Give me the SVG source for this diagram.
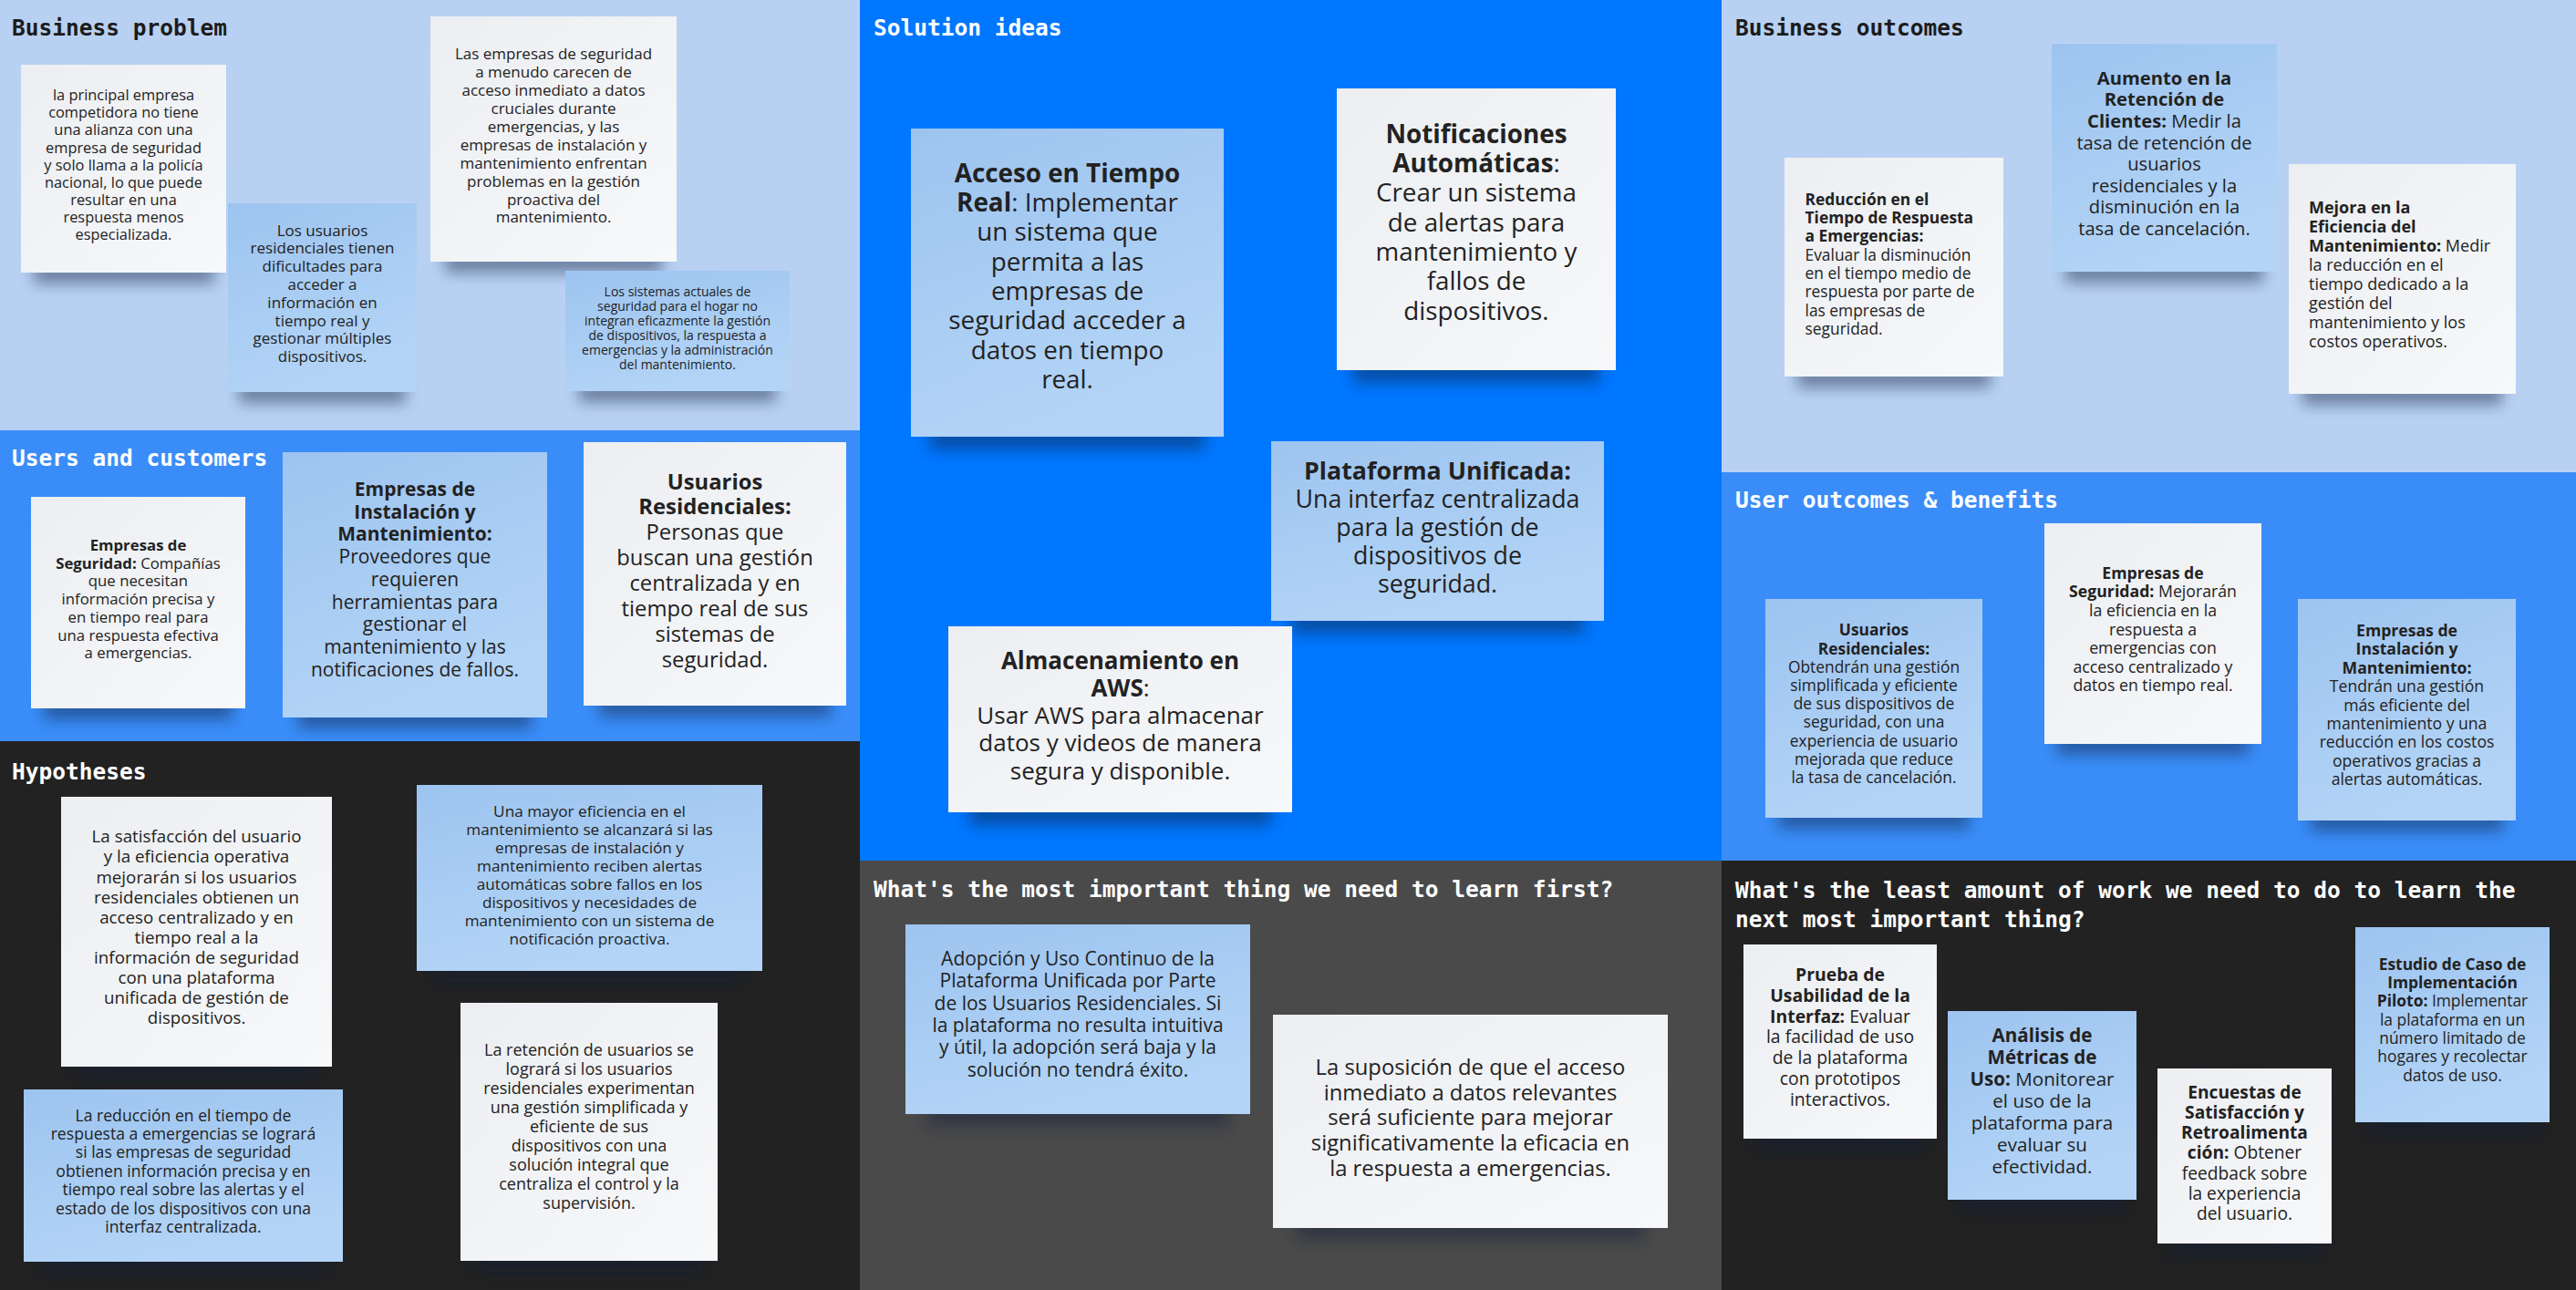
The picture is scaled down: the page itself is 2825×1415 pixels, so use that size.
<svg xmlns="http://www.w3.org/2000/svg" width="2825" height="1415" viewBox="0 0 2825 1415">
<defs>
<linearGradient id="gw" x1="0" y1="0" x2="1" y2="1"><stop offset="0" stop-color="#eceef1"/><stop offset="1" stop-color="#f7f8fa"/></linearGradient>
<linearGradient id="gb" x1="0" y1="0" x2="0.4" y2="1"><stop offset="0" stop-color="#9dc4f0"/><stop offset="1" stop-color="#b3d4f6"/></linearGradient>
<filter id="blur" x="-30%" y="-100%" width="160%" height="300%"><feGaussianBlur stdDeviation="8"/></filter>
</defs>
<style>
.h{font-family:"DejaVu Sans Mono","Liberation Mono",monospace;font-weight:700;font-size:24.5px;fill:#ffffff}
.hd{fill:#1c1c1c}
.t{font-family:"Open Sans","Noto Sans","Liberation Sans",sans-serif;fill:#222222;text-anchor:middle}
.l{text-anchor:start}
.b{font-weight:700}
.w{fill:url(#gw)}
.bl{fill:url(#gb)}
.sh{fill:#0a1a3a;opacity:0.45;filter:url(#blur)}
</style>

<g id="sections">
<rect x="0" y="0" width="943" height="472" fill="#b8d1f3"/>
<rect x="0" y="472" width="943" height="341" fill="#3a8df8"/>
<rect x="0" y="813" width="943" height="602" fill="#222222"/>
<rect x="943" y="0" width="945" height="944" fill="#0077ff"/>
<rect x="943" y="944" width="945" height="471" fill="#4a4a4a"/>
<rect x="1888" y="0" width="937" height="518" fill="#b8d1f3"/>
<rect x="1888" y="518" width="937" height="426" fill="#3a8df8"/>
<rect x="1888" y="944" width="937" height="471" fill="#222222"/>
</g>

<g id="titles">
<text class="h hd" x="13" y="39">Business problem</text>
<text class="h" x="13" y="511">Users and customers</text>
<text class="h" x="13" y="855">Hypotheses</text>
<text class="h" x="958" y="39">Solution ideas</text>
<text class="h" x="958" y="984">What's the most important thing we need to learn first?</text>
<text class="h hd" x="1903" y="39">Business outcomes</text>
<text class="h" x="1903" y="557">User outcomes &amp; benefits</text>
<text class="h" x="1903" y="985">What's the least amount of work we need to do to learn the</text>
<text class="h" x="1903" y="1017">next most important thing?</text>
</g>

<g id="connectors"></g>

<!-- Business problem -->
<g id="bp-competidora">
<rect class="sh" x="37" y="287" width="198" height="24"/>
<rect class="w" x="23" y="71" width="225" height="228"/>
<text class="t" font-size="16.4"><tspan x="135.5" y="110.4">la principal empresa</tspan><tspan x="135.5" dy="19.04">competidora no tiene</tspan><tspan x="135.5" dy="19.04">una alianza con una</tspan><tspan x="135.5" dy="19.04">empresa de seguridad</tspan><tspan x="135.5" dy="19.04">y solo llama a la policía</tspan><tspan x="135.5" dy="19.04">nacional, lo que puede</tspan><tspan x="135.5" dy="19.04">resultar en una</tspan><tspan x="135.5" dy="19.04">respuesta menos</tspan><tspan x="135.5" dy="19.04">especializada.</tspan></text>
</g>
<g id="bp-usuarios">
<rect class="sh" x="262" y="418" width="183" height="24"/>
<rect class="bl" x="250" y="223" width="207" height="207"/>
<text class="t" font-size="17"><tspan x="353.5" y="258.6">Los usuarios</tspan><tspan x="353.5" dy="19.8">residenciales tienen</tspan><tspan x="353.5" dy="19.8">dificultades para</tspan><tspan x="353.5" dy="19.8">acceder a</tspan><tspan x="353.5" dy="19.8">información en</tspan><tspan x="353.5" dy="19.8">tiempo real y</tspan><tspan x="353.5" dy="19.8">gestionar múltiples</tspan><tspan x="353.5" dy="19.8">dispositivos.</tspan></text>
</g>
<g id="bp-empresas">
<rect class="sh" x="488" y="275" width="238" height="24"/>
<rect class="w" x="472" y="18" width="270" height="269"/>
<text class="t" font-size="17"><tspan x="607" y="65.3">Las empresas de seguridad</tspan><tspan x="607" dy="19.9">a menudo carecen de</tspan><tspan x="607" dy="19.9">acceso inmediato a datos</tspan><tspan x="607" dy="19.9">cruciales durante</tspan><tspan x="607" dy="19.9">emergencias, y las</tspan><tspan x="607" dy="19.9">empresas de instalación y</tspan><tspan x="607" dy="19.9">mantenimiento enfrentan</tspan><tspan x="607" dy="19.9">problemas en la gestión</tspan><tspan x="607" dy="19.9">proactiva del</tspan><tspan x="607" dy="19.9">mantenimiento.</tspan></text>
</g>
<g id="bp-sistemas">
<rect class="sh" x="635" y="417" width="216" height="24"/>
<rect class="bl" x="620" y="297" width="246" height="132"/>
<text class="t" font-size="14"><tspan x="743" y="324.8">Los sistemas actuales de</tspan><tspan x="743" dy="16">seguridad para el hogar no</tspan><tspan x="743" dy="16">integran eficazmente la gestión</tspan><tspan x="743" dy="16">de dispositivos, la respuesta a</tspan><tspan x="743" dy="16">emergencias y la administración</tspan><tspan x="743" dy="16">del mantenimiento.</tspan></text>
</g>

<!-- Users and customers -->
<g id="uc-seguridad">
<rect class="sh" x="48" y="765" width="207" height="24"/>
<rect class="w" x="34" y="545" width="235" height="232"/>
<text class="t" font-size="16.8"><tspan x="151.5" y="604" class="b">Empresas de</tspan><tspan x="151.5" dy="19.7"><tspan class="b">Seguridad:</tspan> Compañías</tspan><tspan x="151.5" dy="19.7">que necesitan</tspan><tspan x="151.5" dy="19.7">información precisa y</tspan><tspan x="151.5" dy="19.7">en tiempo real para</tspan><tspan x="151.5" dy="19.7">una respuesta efectiva</tspan><tspan x="151.5" dy="19.7">a emergencias.</tspan></text>
</g>
<g id="uc-instalacion">
<rect class="sh" x="327" y="775" width="256" height="24"/>
<rect class="bl" x="310" y="496" width="290" height="291"/>
<text class="t" font-size="21"><tspan x="455" y="544" class="b">Empresas de</tspan><tspan x="455" dy="24.7" class="b">Instalación y</tspan><tspan x="455" dy="24.7" class="b">Mantenimiento:</tspan><tspan x="455" dy="24.7">Proveedores que</tspan><tspan x="455" dy="24.7">requieren</tspan><tspan x="455" dy="24.7">herramientas para</tspan><tspan x="455" dy="24.7">gestionar el</tspan><tspan x="455" dy="24.7">mantenimiento y las</tspan><tspan x="455" dy="24.7">notificaciones de fallos.</tspan></text>
</g>
<g id="uc-residenciales">
<rect class="sh" x="657" y="762" width="254" height="24"/>
<rect class="w" x="640" y="485" width="288" height="289"/>
<text class="t" font-size="23.8"><tspan x="784" y="536.5" class="b">Usuarios</tspan><tspan x="784" dy="27.9" class="b">Residenciales:</tspan><tspan x="784" dy="27.9">Personas que</tspan><tspan x="784" dy="27.9">buscan una gestión</tspan><tspan x="784" dy="27.9">centralizada y en</tspan><tspan x="784" dy="27.9">tiempo real de sus</tspan><tspan x="784" dy="27.9">sistemas de</tspan><tspan x="784" dy="27.9">seguridad.</tspan></text>
</g>

<!-- Hypotheses -->
<g id="hy-satisfaccion">
<rect class="sh" x="85" y="1158" width="261" height="24"/>
<rect class="w" x="67" y="874" width="297" height="296"/>
<text class="t" font-size="18.8"><tspan x="215.5" y="924.3">La satisfacción del usuario</tspan><tspan x="215.5" dy="22.1">y la eficiencia operativa</tspan><tspan x="215.5" dy="22.1">mejorarán si los usuarios</tspan><tspan x="215.5" dy="22.1">residenciales obtienen un</tspan><tspan x="215.5" dy="22.1">acceso centralizado y en</tspan><tspan x="215.5" dy="22.1">tiempo real a la</tspan><tspan x="215.5" dy="22.1">información de seguridad</tspan><tspan x="215.5" dy="22.1">con una plataforma</tspan><tspan x="215.5" dy="22.1">unificada de gestión de</tspan><tspan x="215.5" dy="22.1">dispositivos.</tspan></text>
</g>
<g id="hy-mantenimiento">
<rect class="sh" x="480" y="1053" width="333" height="24"/>
<rect class="bl" x="457" y="861" width="379" height="204"/>
<text class="t" font-size="17.2"><tspan x="646.5" y="895.6">Una mayor eficiencia en el</tspan><tspan x="646.5" dy="20">mantenimiento se alcanzará si las</tspan><tspan x="646.5" dy="20">empresas de instalación y</tspan><tspan x="646.5" dy="20">mantenimiento reciben alertas</tspan><tspan x="646.5" dy="20">automáticas sobre fallos en los</tspan><tspan x="646.5" dy="20">dispositivos y necesidades de</tspan><tspan x="646.5" dy="20">mantenimiento con un sistema de</tspan><tspan x="646.5" dy="20">notificación proactiva.</tspan></text>
</g>
<g id="hy-reduccion">
<rect class="sh" x="47" y="1372" width="308" height="24"/>
<rect class="bl" x="26" y="1195" width="350" height="189"/>
<text class="t" font-size="17.6"><tspan x="201" y="1229.5">La reducción en el tiempo de</tspan><tspan x="201" dy="20.4">respuesta a emergencias se logrará</tspan><tspan x="201" dy="20.4">si las empresas de seguridad</tspan><tspan x="201" dy="20.4">obtienen información precisa y en</tspan><tspan x="201" dy="20.4">tiempo real sobre las alertas y el</tspan><tspan x="201" dy="20.4">estado de los dispositivos con una</tspan><tspan x="201" dy="20.4">interfaz centralizada.</tspan></text>
</g>
<g id="hy-retencion">
<rect class="sh" x="522" y="1371" width="248" height="24"/>
<rect class="w" x="505" y="1100" width="282" height="283"/>
<text class="t" font-size="18"><tspan x="646" y="1158.3">La retención de usuarios se</tspan><tspan x="646" dy="21">logrará si los usuarios</tspan><tspan x="646" dy="21">residenciales experimentan</tspan><tspan x="646" dy="21">una gestión simplificada y</tspan><tspan x="646" dy="21">eficiente de sus</tspan><tspan x="646" dy="21">dispositivos con una</tspan><tspan x="646" dy="21">solución integral que</tspan><tspan x="646" dy="21">centraliza el control y la</tspan><tspan x="646" dy="21">supervisión.</tspan></text>
</g>

<!-- Solution ideas -->
<g id="si-acceso">
<rect class="sh" x="1020" y="467" width="301" height="26"/>
<rect class="bl" x="999" y="141" width="343" height="338"/>
<text class="t" font-size="27.8"><tspan x="1170.5" y="199.8" class="b">Acceso en Tiempo</tspan><tspan x="1170.5" dy="32.3"><tspan class="b">Real</tspan>: Implementar</tspan><tspan x="1170.5" dy="32.3">un sistema que</tspan><tspan x="1170.5" dy="32.3">permita a las</tspan><tspan x="1170.5" dy="32.3">empresas de</tspan><tspan x="1170.5" dy="32.3">seguridad acceder a</tspan><tspan x="1170.5" dy="32.3">datos en tiempo</tspan><tspan x="1170.5" dy="32.3">real.</tspan></text>
</g>
<g id="si-notificaciones">
<rect class="sh" x="1484" y="394" width="270" height="26"/>
<rect class="w" x="1466" y="97" width="306" height="309"/>
<text class="t" font-size="27.8"><tspan x="1619" y="156.8" class="b">Notificaciones</tspan><tspan x="1619" dy="32.3"><tspan class="b">Automáticas</tspan>:</tspan><tspan x="1619" dy="32.3">Crear un sistema</tspan><tspan x="1619" dy="32.3">de alertas para</tspan><tspan x="1619" dy="32.3">mantenimiento y</tspan><tspan x="1619" dy="32.3">fallos de</tspan><tspan x="1619" dy="32.3">dispositivos.</tspan></text>
</g>
<g id="si-plataforma">
<rect class="sh" x="1416" y="669" width="321" height="26"/>
<rect class="bl" x="1394" y="484" width="365" height="197"/>
<text class="t" font-size="26.8"><tspan x="1576.5" y="525.5" class="b">Plataforma Unificada:</tspan><tspan x="1576.5" dy="31.1">Una interfaz centralizada</tspan><tspan x="1576.5" dy="31.1">para la gestión de</tspan><tspan x="1576.5" dy="31.1">dispositivos de</tspan><tspan x="1576.5" dy="31.1">seguridad.</tspan></text>
</g>
<g id="si-aws">
<rect class="sh" x="1063" y="879" width="331" height="26"/>
<rect class="w" x="1040" y="687" width="377" height="204"/>
<text class="t" font-size="26"><tspan x="1228.5" y="733.7" class="b">Almacenamiento en</tspan><tspan x="1228.5" dy="30.2"><tspan class="b">AWS</tspan>:</tspan><tspan x="1228.5" dy="30.2">Usar AWS para almacenar</tspan><tspan x="1228.5" dy="30.2">datos y videos de manera</tspan><tspan x="1228.5" dy="30.2">segura y disponible.</tspan></text>
</g>

<!-- Most important thing -->
<g id="mi-adopcion">
<rect class="sh" x="1016" y="1210" width="332" height="24"/>
<rect class="bl" x="993" y="1014" width="378" height="208"/>
<text class="t" font-size="21"><tspan x="1182" y="1059">Adopción y Uso Continuo de la</tspan><tspan x="1182" dy="24.3">Plataforma Unificada por Parte</tspan><tspan x="1182" dy="24.3">de los Usuarios Residenciales. Si</tspan><tspan x="1182" dy="24.3">la plataforma no resulta intuitiva</tspan><tspan x="1182" dy="24.3">y útil, la adopción será baja y la</tspan><tspan x="1182" dy="24.3">solución no tendrá éxito.</tspan></text>
</g>
<g id="mi-suposicion">
<rect class="sh" x="1422" y="1335" width="381" height="24"/>
<rect class="w" x="1396" y="1113" width="433" height="234"/>
<text class="t" font-size="23.8"><tspan x="1612.5" y="1178.8">La suposición de que el acceso</tspan><tspan x="1612.5" dy="27.8">inmediato a datos relevantes</tspan><tspan x="1612.5" dy="27.8">será suficiente para mejorar</tspan><tspan x="1612.5" dy="27.8">significativamente la eficacia en</tspan><tspan x="1612.5" dy="27.8">la respuesta a emergencias.</tspan></text>
</g>

<!-- Business outcomes -->
<g id="bo-reduccion">
<rect class="sh" x="1971" y="401" width="212" height="24"/>
<rect class="w" x="1957" y="173" width="240" height="240"/>
<text class="t l" font-size="17.4"><tspan x="1979.5" y="224.7" class="b">Reducción en el</tspan><tspan x="1979.5" dy="20.3" class="b">Tiempo de Respuesta</tspan><tspan x="1979.5" dy="20.3" class="b">a Emergencias:</tspan><tspan x="1979.5" dy="20.3">Evaluar la disminución</tspan><tspan x="1979.5" dy="20.3">en el tiempo medio de</tspan><tspan x="1979.5" dy="20.3">respuesta por parte de</tspan><tspan x="1979.5" dy="20.3">las empresas de</tspan><tspan x="1979.5" dy="20.3">seguridad.</tspan></text>
</g>
<g id="bo-aumento">
<rect class="sh" x="2265" y="286" width="217" height="24"/>
<rect class="bl" x="2250" y="48" width="247" height="250"/>
<text class="t" font-size="20.2"><tspan x="2373.5" y="92.8" class="b">Aumento en la</tspan><tspan x="2373.5" dy="23.6" class="b">Retención de</tspan><tspan x="2373.5" dy="23.6"><tspan class="b">Clientes:</tspan> Medir la</tspan><tspan x="2373.5" dy="23.6">tasa de retención de</tspan><tspan x="2373.5" dy="23.6">usuarios</tspan><tspan x="2373.5" dy="23.6">residenciales y la</tspan><tspan x="2373.5" dy="23.6">disminución en la</tspan><tspan x="2373.5" dy="23.6">tasa de cancelación.</tspan></text>
</g>
<g id="bo-mejora">
<rect class="sh" x="2525" y="420" width="219" height="24"/>
<rect class="w" x="2510" y="180" width="249" height="252"/>
<text class="t l" font-size="18"><tspan x="2532" y="234.2" class="b">Mejora en la</tspan><tspan x="2532" dy="21" class="b">Eficiencia del</tspan><tspan x="2532" dy="21"><tspan class="b">Mantenimiento:</tspan> Medir</tspan><tspan x="2532" dy="21">la reducción en el</tspan><tspan x="2532" dy="21">tiempo dedicado a la</tspan><tspan x="2532" dy="21">gestión del</tspan><tspan x="2532" dy="21">mantenimiento y los</tspan><tspan x="2532" dy="21">costos operativos.</tspan></text>
</g>

<!-- User outcomes -->
<g id="uo-residenciales">
<rect class="sh" x="1950" y="885" width="210" height="24"/>
<rect class="bl" x="1936" y="657" width="238" height="240"/>
<text class="t" font-size="17.4"><tspan x="2055" y="697.4" class="b">Usuarios</tspan><tspan x="2055" dy="20.2" class="b">Residenciales:</tspan><tspan x="2055" dy="20.2">Obtendrán una gestión</tspan><tspan x="2055" dy="20.2">simplificada y eficiente</tspan><tspan x="2055" dy="20.2">de sus dispositivos de</tspan><tspan x="2055" dy="20.2">seguridad, con una</tspan><tspan x="2055" dy="20.2">experiencia de usuario</tspan><tspan x="2055" dy="20.2">mejorada que reduce</tspan><tspan x="2055" dy="20.2">la tasa de cancelación.</tspan></text>
</g>
<g id="uo-seguridad">
<rect class="sh" x="2256" y="804" width="210" height="24"/>
<rect class="w" x="2242" y="574" width="238" height="242"/>
<text class="t" font-size="17.7"><tspan x="2361" y="634.8" class="b">Empresas de</tspan><tspan x="2361" dy="20.6"><tspan class="b">Seguridad:</tspan> Mejorarán</tspan><tspan x="2361" dy="20.6">la eficiencia en la</tspan><tspan x="2361" dy="20.6">respuesta a</tspan><tspan x="2361" dy="20.6">emergencias con</tspan><tspan x="2361" dy="20.6">acceso centralizado y</tspan><tspan x="2361" dy="20.6">datos en tiempo real.</tspan></text>
</g>
<g id="uo-instalacion">
<rect class="sh" x="2534" y="888" width="211" height="24"/>
<rect class="bl" x="2520" y="657" width="239" height="243"/>
<text class="t" font-size="17.6"><tspan x="2639.5" y="698" class="b">Empresas de</tspan><tspan x="2639.5" dy="20.4" class="b">Instalación y</tspan><tspan x="2639.5" dy="20.4" class="b">Mantenimiento:</tspan><tspan x="2639.5" dy="20.4">Tendrán una gestión</tspan><tspan x="2639.5" dy="20.4">más eficiente del</tspan><tspan x="2639.5" dy="20.4">mantenimiento y una</tspan><tspan x="2639.5" dy="20.4">reducción en los costos</tspan><tspan x="2639.5" dy="20.4">operativos gracias a</tspan><tspan x="2639.5" dy="20.4">alertas automáticas.</tspan></text>
</g>

<!-- Least amount of work -->
<g id="lw-usabilidad">
<rect class="sh" x="1925" y="1237" width="186" height="24"/>
<rect class="w" x="1912" y="1036" width="212" height="213"/>
<text class="t" font-size="19.4"><tspan x="2018" y="1076.3" class="b">Prueba de</tspan><tspan x="2018" dy="22.7" class="b">Usabilidad de la</tspan><tspan x="2018" dy="22.7"><tspan class="b">Interfaz:</tspan> Evaluar</tspan><tspan x="2018" dy="22.7">la facilidad de uso</tspan><tspan x="2018" dy="22.7">de la plataforma</tspan><tspan x="2018" dy="22.7">con prototipos</tspan><tspan x="2018" dy="22.7">interactivos.</tspan></text>
</g>
<g id="lw-metricas">
<rect class="sh" x="2149" y="1304" width="181" height="24"/>
<rect class="bl" x="2136" y="1109" width="207" height="207"/>
<text class="t" font-size="20.6"><tspan x="2239.5" y="1143.3" class="b">Análisis de</tspan><tspan x="2239.5" dy="24" class="b">Métricas de</tspan><tspan x="2239.5" dy="24"><tspan class="b">Uso:</tspan> Monitorear</tspan><tspan x="2239.5" dy="24">el uso de la</tspan><tspan x="2239.5" dy="24">plataforma para</tspan><tspan x="2239.5" dy="24">evaluar su</tspan><tspan x="2239.5" dy="24">efectividad.</tspan></text>
</g>
<g id="lw-encuestas">
<rect class="sh" x="2378" y="1352" width="167" height="24"/>
<rect class="w" x="2366" y="1172" width="191" height="192"/>
<text class="t" font-size="19.2"><tspan x="2461.5" y="1204.5" class="b">Encuestas de</tspan><tspan x="2461.5" dy="22.3" class="b">Satisfacción y</tspan><tspan x="2461.5" dy="22.3" class="b">Retroalimenta</tspan><tspan x="2461.5" dy="22.3"><tspan class="b">ción:</tspan> Obtener</tspan><tspan x="2461.5" dy="22.3">feedback sobre</tspan><tspan x="2461.5" dy="22.3">la experiencia</tspan><tspan x="2461.5" dy="22.3">del usuario.</tspan></text>
</g>
<g id="lw-piloto">
<rect class="sh" x="2596" y="1219" width="187" height="24"/>
<rect class="bl" x="2583" y="1017" width="213" height="214"/>
<text class="t" font-size="17.4"><tspan x="2689.5" y="1063.7" class="b">Estudio de Caso de</tspan><tspan x="2689.5" dy="20.3" class="b">Implementación</tspan><tspan x="2689.5" dy="20.3"><tspan class="b">Piloto:</tspan> Implementar</tspan><tspan x="2689.5" dy="20.3">la plataforma en un</tspan><tspan x="2689.5" dy="20.3">número limitado de</tspan><tspan x="2689.5" dy="20.3">hogares y recolectar</tspan><tspan x="2689.5" dy="20.3">datos de uso.</tspan></text>
</g>
</svg>
